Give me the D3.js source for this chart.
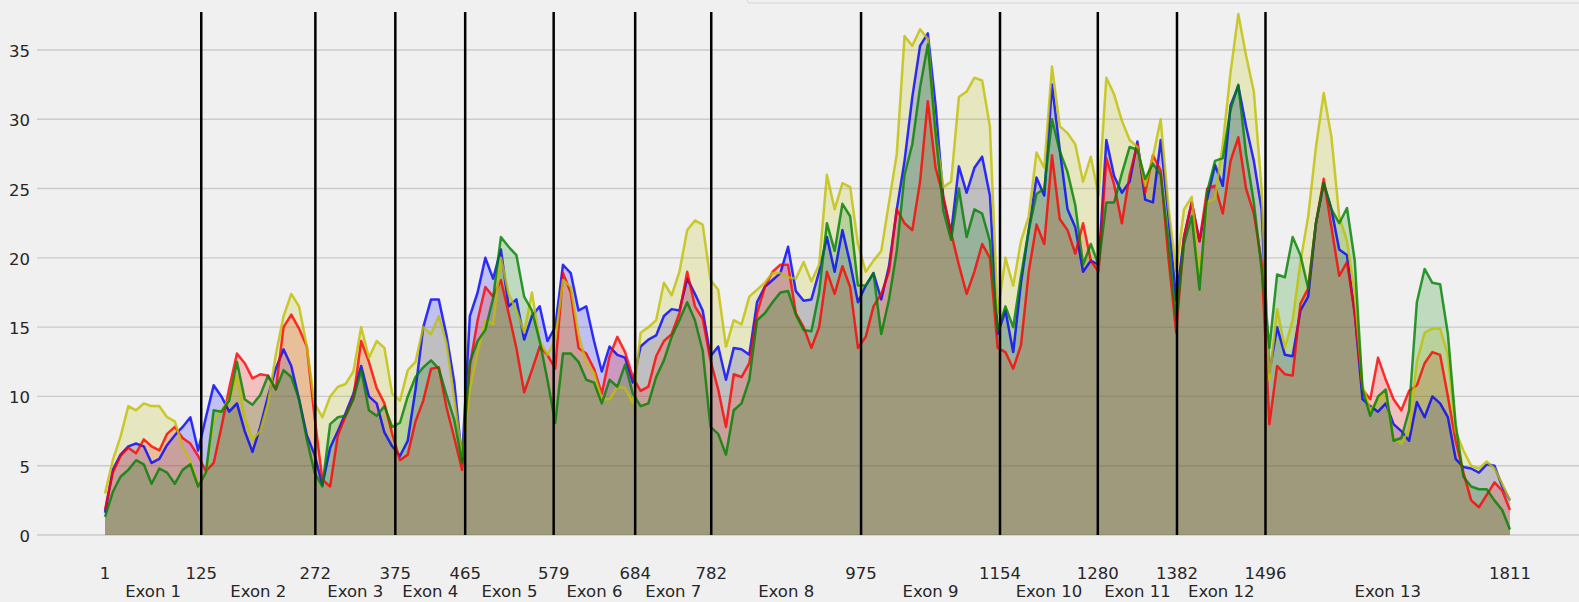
<!DOCTYPE html>
<html>
<head>
<meta charset="utf-8">
<script src="https://cdn.jsdelivr.net/npm/d3@7"></script>
<style>
  html, body { margin: 0; padding: 0; background: #f0f0f0; overflow: hidden; }
  svg { display: block; font-family: "DejaVu Sans", sans-serif; }
</style>
</head>
<body>
<div id="chart"></div>
<script>
// sampled transcript positions (every 10)
const positions = [
  1, 11, 21, 31, 41, 51, 61, 71, 81, 91, 101, 111, 121,
  131, 141, 151, 161, 171, 181, 191, 201, 211, 221, 231, 241, 251, 261, 271,
  281, 291, 301, 311, 321, 331, 341, 351, 361, 371,
  381, 391, 401, 411, 421, 431, 441, 451, 461,
  471, 481, 491, 501, 511, 521, 531, 541, 551, 561, 571,
  581, 591, 601, 611, 621, 631, 641, 651, 661, 671, 681,
  691, 701, 711, 721, 731, 741, 751, 761, 771, 781,
  791, 801, 811, 821, 831, 841, 851, 861, 871, 881, 891, 901, 911, 921, 931, 941, 951, 961, 971,
  981, 991, 1001, 1011, 1021, 1031, 1041, 1051, 1061, 1071, 1081, 1091, 1101, 1111, 1121, 1131, 1141, 1151,
  1161, 1171, 1181, 1191, 1201, 1211, 1221, 1231, 1241, 1251, 1261, 1271,
  1281, 1291, 1301, 1311, 1321, 1331, 1341, 1351, 1361, 1371, 1381,
  1391, 1401, 1411, 1421, 1431, 1441, 1451, 1461, 1471, 1481, 1491,
  1501, 1511, 1521, 1531, 1541, 1551, 1561, 1571, 1581, 1591, 1601, 1611, 1621, 1631, 1641, 1651,
  1661, 1671, 1681, 1691, 1701, 1711, 1721, 1731, 1741, 1751, 1761, 1771, 1781, 1791, 1801, 1811
]

const blueVals = [
  1.6, 4.7, 5.8, 6.4, 6.6, 6.4, 5.2, 5.5, 6.5, 7.2, 7.8, 8.5, 6.1,
  8.5, 10.8, 10.0, 8.9, 9.5, 7.5, 6.0, 7.8, 10.0, 12.0, 13.4, 12.2, 9.8, 7.2, 5.8,
  3.6, 6.3, 7.5, 8.8, 10.2, 12.2, 10.0, 9.5, 7.4, 6.4,
  5.7, 6.8, 10.5, 15.0, 17.0, 17.0, 14.4, 11.0, 5.4,
  15.8, 17.5, 20.0, 18.5, 20.6, 16.5, 17.0, 14.1, 15.8, 16.5, 14.0,
  15.0, 19.5, 18.9, 16.2, 16.5, 14.0, 11.8, 13.6, 13.0, 12.8, 11.0,
  13.6, 14.1, 14.4, 15.8, 16.3, 16.2, 18.5, 17.4, 16.2, 12.9,
  13.6, 11.2, 13.5, 13.4, 13.0, 16.8, 17.9, 18.4, 18.9, 20.8, 17.6, 16.9, 17.0, 19.0, 21.5, 19.0, 22.0, 19.6, 16.8,
  18.0, 18.9, 17.0, 19.4, 23.5, 27.0, 31.6, 35.3, 36.2, 31.0, 24.3, 21.8, 26.6, 24.7, 26.5, 27.3, 24.5, 14.5,
  16.2, 13.2, 18.2, 22.0, 25.8, 24.5, 32.5, 27.8, 23.5, 22.2, 19.0, 19.8,
  19.5, 28.5, 25.9, 24.7, 25.5, 28.4, 24.2, 24.0, 28.5, 23.0, 16.9,
  21.5, 24.0, 21.2, 24.3, 26.7, 25.2, 31.0, 32.4, 29.5, 27.0, 23.5,
  11.7, 15.0, 13.0, 12.9, 16.2, 17.2, 22.5, 25.4, 23.5, 20.6, 20.2, 16.0, 9.8, 9.3, 8.9, 9.5,
  8.0, 7.5, 6.8, 9.6, 8.5, 10.0, 9.5, 8.5, 5.5, 4.9, 4.8, 4.5, 5.1, 5.0, 3.5, 2.5
]

const redVals = [
  1.8, 4.5, 5.7, 6.3, 5.9, 6.9, 6.4, 6.1, 7.3, 7.8, 7.0, 6.6, 5.7,
  4.6, 5.2, 7.8, 10.6, 13.1, 12.4, 11.3, 11.6, 11.5, 10.5, 15.0, 15.9, 14.9, 13.6, 8.5,
  4.0, 3.5, 7.2, 8.6, 9.9, 14.0, 12.5, 10.6, 9.5, 7.3,
  5.4, 5.8, 8.2, 9.7, 12.0, 12.1, 9.2, 7.0, 4.7,
  12.2, 15.5, 17.9, 17.2, 18.4, 16.0, 13.5, 10.3, 11.9, 13.6, 13.0,
  12.0, 18.9, 17.5, 13.5, 13.1, 12.0, 10.2, 12.9, 14.3, 13.2, 11.4,
  10.4, 10.7, 12.9, 14.0, 14.5, 16.0, 19.0, 16.5, 15.6, 12.6,
  10.5, 7.8, 11.6, 11.4, 12.4, 16.0, 17.9, 19.0, 19.5, 19.5, 16.0, 15.0, 13.5, 15.0, 19.0, 17.4, 19.4, 17.9, 13.5,
  14.3, 16.5, 17.4, 19.0, 23.5, 22.5, 22.0, 25.5, 31.3, 26.5, 24.4, 21.8, 19.5, 17.4, 19.0, 21.0, 20.0, 13.5,
  13.2, 12.0, 13.7, 19.0, 22.4, 21.0, 27.4, 22.8, 22.0, 20.3, 22.5, 19.8,
  19.0, 27.2, 25.3, 22.5, 26.0, 28.2, 24.7, 27.4, 26.3, 20.0, 14.6,
  21.5, 24.0, 21.2, 25.0, 25.2, 23.2, 27.0, 28.7, 25.0, 23.2, 19.7,
  8.0, 12.2, 11.6, 11.5, 16.7, 17.8, 22.5, 25.7, 22.2, 18.7, 19.7, 16.0, 10.5, 9.8, 12.8, 11.2,
  9.8, 9.0, 10.4, 10.8, 12.4, 13.2, 13.0, 10.0, 6.8, 4.5, 2.5, 2.0, 2.9, 3.8, 3.2, 1.8
]

const yellowVals = [
  3.0, 5.4, 7.1, 9.3, 9.0, 9.5, 9.3, 9.3, 8.5, 8.2, 6.4, 5.4, 3.7,
  4.5, 8.3, 9.0, 9.8, 11.5, 8.5, 6.9, 7.5, 9.5, 13.0, 15.8, 17.4, 16.5, 13.6, 9.5,
  8.5, 10.0, 10.7, 10.9, 11.8, 15.0, 12.8, 14.0, 13.5, 10.2,
  9.7, 11.9, 12.5, 15.0, 14.5, 15.8, 13.8, 9.8, 5.7,
  10.5, 13.2, 15.5, 15.2, 20.0, 17.4, 16.2, 14.6, 17.5, 14.0, 13.0,
  14.1, 18.4, 17.9, 14.5, 12.4, 11.7, 9.8, 9.8, 10.7, 10.6, 9.5,
  14.6, 15.0, 15.5, 18.2, 17.3, 19.0, 22.0, 22.7, 22.4, 18.4,
  17.7, 13.6, 15.5, 15.2, 17.2, 17.7, 18.2, 18.9, 18.9, 18.6, 18.5, 19.7, 18.3, 19.5, 26.0, 23.5, 25.4, 25.1, 21.0,
  19.0, 19.8, 20.5, 24.0, 27.5, 36.0, 35.3, 36.5, 35.8, 29.0, 25.1, 25.5, 31.6, 32.0, 33.0, 32.8, 29.5, 16.0,
  20.0, 18.0, 21.2, 23.0, 27.6, 26.5, 33.8, 29.5, 29.0, 28.2, 25.5, 27.3,
  24.5, 33.0, 31.8, 29.9, 28.5, 28.0, 25.2, 27.3, 30.0, 23.7, 19.0,
  23.5, 24.4, 18.7, 24.0, 24.3, 28.2, 33.4, 37.6, 34.6, 32.0, 25.0,
  11.2, 16.3, 13.5, 15.5, 19.7, 23.0, 28.0, 31.9, 28.7, 23.0, 21.2, 17.5, 10.8, 9.0, 9.8, 10.2,
  7.0, 6.6, 7.6, 12.5, 14.6, 14.9, 14.9, 13.0, 7.5, 6.1, 5.0, 4.8, 5.3, 4.8, 3.7, 2.5
]

const greenVals = [
  1.3, 3.1, 4.2, 4.7, 5.4, 5.1, 3.7, 4.8, 4.5, 3.7, 4.7, 5.1, 3.5,
  4.5, 9.0, 8.9, 9.7, 12.5, 9.8, 9.4, 10.1, 11.5, 10.5, 11.9, 11.4, 9.8, 6.9, 4.5,
  3.5, 8.0, 8.5, 8.6, 9.8, 11.9, 9.0, 8.6, 9.3, 7.8,
  8.1, 10.0, 11.4, 12.1, 12.6, 12.0, 10.1, 8.3, 5.2,
  12.5, 14.0, 14.8, 17.1, 21.5, 20.8, 20.2, 17.2, 16.2, 14.0, 11.2,
  8.1, 13.1, 13.1, 12.5, 11.2, 11.0, 9.5, 11.2, 10.7, 12.3, 10.2,
  9.3, 9.5, 11.4, 12.6, 14.3, 15.5, 16.8, 15.5, 13.3, 7.8,
  7.3, 5.8, 9.0, 9.5, 11.2, 15.5, 16.0, 16.8, 17.5, 17.6, 15.9, 14.8, 14.7, 17.5, 22.5, 20.5, 23.9, 23.0, 18.0,
  18.0, 18.9, 14.5, 17.0, 20.5, 26.0, 28.2, 32.3, 35.4, 29.0, 23.4, 21.3, 25.0, 21.5, 23.5, 23.2, 21.2, 14.8,
  16.5, 15.0, 18.7, 22.0, 24.6, 25.0, 30.0, 27.7, 26.2, 23.8, 19.5, 21.0,
  19.5, 24.0, 24.0, 26.1, 28.0, 27.8, 25.7, 26.8, 26.0, 21.2, 15.5,
  21.0, 23.0, 17.7, 24.8, 27.0, 27.2, 30.7, 32.5, 27.5, 24.0, 19.2,
  13.5, 18.8, 18.6, 21.5, 20.2, 17.8, 22.5, 25.4, 23.5, 22.5, 23.6, 19.8, 10.5, 8.6, 10.0, 10.5,
  6.8, 7.0, 9.0, 16.8, 19.2, 18.2, 18.1, 14.5, 8.0, 4.2, 3.5, 3.3, 3.3, 2.5, 1.8, 0.4
]

const exonBounds = [1, 125, 272, 375, 465, 579, 684, 782, 975, 1154, 1280, 1382, 1496, 1811]
const exonNames = ["Exon 1", "Exon 2", "Exon 3", "Exon 4", "Exon 5", "Exon 6", "Exon 7",
                   "Exon 8", "Exon 9", "Exon 10", "Exon 11", "Exon 12", "Exon 13"]
const yTicks = [0, 5, 10, 15, 20, 25, 30, 35]

const series = [
    {name: "blue", color: "#0000ff", values: blueVals},
    {name: "red", color: "#ff0000", values: redVals},
    {name: "yellow", color: "#bfbf00", values: yellowVals},
    {name: "green", color: "#008000", values: greenVals}
]

const W = 1579, H = 602

const svg = d3.select("#chart")
  .append("svg")
    .attr("width", W)
    .attr("height", H)

svg.append("rect")
    .attr("width", W).attr("height", H)
    .attr("fill", "#f0f0f0")

// legend box cut off at the top edge
svg.append("rect")
    .attr("x", 747).attr("y", -12)
    .attr("width", 860).attr("height", 15)
    .attr("rx", 3)
    .attr("fill", "#f0f0f0")
    .attr("stroke", "#d6d6d6")
    .attr("stroke-width", 1)

const x = d3.scaleLinear()
    .domain([1, 1811])
    .range([105, 1510])

const y = d3.scaleLinear()
    .domain([0, 37.74])
    .range([535, 12])

// grid
svg.append("g")
  .selectAll("line")
  .data(yTicks).enter()
  .append("line")
    .attr("x1", 37).attr("x2", W)
    .attr("y1", d => y(d)).attr("y2", d => y(d))
    .attr("stroke", "#cbcbcb")
    .attr("stroke-width", 1.4)

svg.append("g")
  .selectAll("text")
  .data(yTicks).enter()
  .append("text")
    .attr("x", 30)
    .attr("y", d => y(d) + 7)
    .attr("text-anchor", "end")
    .attr("font-size", "16.5px")
    .attr("fill", "#262626")
    .text(d => d)

const area = d3.area()
    .x((d, i) => x(positions[i]))
    .y0(y(0))
    .y1(d => y(d))

const line = d3.line()
    .x((d, i) => x(positions[i]))
    .y(d => y(d))

// fills first, lines on top
series.forEach(s => {
    svg.append("path")
        .datum(s.values)
        .attr("fill", s.color)
        .attr("fill-opacity", 0.2)
        .attr("d", area)
})

series.forEach(s => {
    svg.append("path")
        .datum(s.values)
        .attr("fill", "none")
        .attr("stroke", s.color)
        .attr("stroke-opacity", 0.8)
        .attr("stroke-width", 2.5)
        .attr("stroke-linejoin", "round")
        .attr("d", line)
})

// exon boundaries
svg.append("g")
  .selectAll("line")
  .data(exonBounds.slice(1, -1)).enter()
  .append("line")
    .attr("x1", d => x(d)).attr("x2", d => x(d))
    .attr("y1", y(0)).attr("y2", y(37.74))
    .attr("stroke", "#000")
    .attr("stroke-width", 2.5)

// x tick labels
svg.append("g")
  .selectAll("text")
  .data(exonBounds).enter()
  .append("text")
    .attr("x", d => x(d))
    .attr("y", 579)
    .attr("text-anchor", "middle")
    .attr("font-size", "16.5px")
    .attr("fill", "#262626")
    .text(d => d)

svg.append("g")
  .selectAll("text")
  .data(exonNames).enter()
  .append("text")
    .attr("x", (d, i) => (x(exonBounds[i]) + x(exonBounds[i + 1])) / 2)
    .attr("y", 597)
    .attr("text-anchor", "middle")
    .attr("font-size", "16.5px")
    .attr("fill", "#262626")
    .text(d => d)
</script>
</body>
</html>
